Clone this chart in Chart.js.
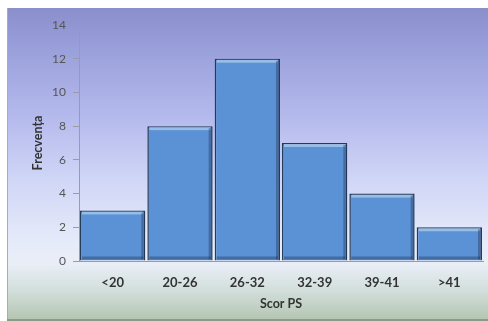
<!DOCTYPE html>
<html><head><meta charset="utf-8">
<script src="https://cdn.jsdelivr.net/npm/chart.js@4/dist/chart.umd.min.js"></script>
<style>
html,body{margin:0;padding:0;background:#fff;}
#wrap{position:absolute;left:7px;top:8px;width:481px;height:313px;
background:linear-gradient(to bottom,#8a8fcc 0%,#9ca2dc 15%,#b5baed 35%,#d0d6f6 55%,#e6ebfa 75%,#e9eef6 82%,#d3dfdc 90%,#b3c4b0 100%);
box-shadow:inset 0 -2px 0 #8a9a88, inset 1px 0 0 #a8a8c8;}
#c{display:block;}
</style></head><body>
<div id="wrap"><canvas id="c" width="481" height="313"></canvas></div>
<script>
const categories = ["<20","20-26","26-32","32-39","39-41",">41"];
const frequencies = [3,8,12,7,4,2];
const yTicks = [0,2,4,6,8,10,12,14];

const bevel = {
  id:'bevel',
  afterDatasetsDraw(chart){
    const ctx = chart.ctx;
    const meta = chart.getDatasetMeta(0);
    ctx.save();
    meta.data.forEach(b=>{
      const left = b.x - b.width/2, right = b.x + b.width/2, top = b.y;
      ctx.fillStyle = 'rgba(200,225,250,0.55)';
      ctx.fillRect(left+2, top+1, right-left-4, 3);
      ctx.fillStyle = 'rgba(20,40,70,0.35)';
      ctx.fillRect(right-4, top+2, 3, b.base-top-3);
      ctx.fillRect(left+2, b.base-4, right-left-4, 3);
    });
    ctx.restore();
  }
};

new Chart(document.getElementById('c'),{
  type:'bar',
  data:{labels:categories,datasets:[{data:frequencies,backgroundColor:'#5b91d5',borderColor:'#233a58',borderWidth:1.5,barPercentage:0.97,categoryPercentage:1}]},
  options:{
    responsive:false,animation:false,
    layout:{padding:{top:17,right:5,left:0,bottom:0}},
    plugins:{legend:{display:false},tooltip:{enabled:false}},
    scales:{
      x:{grid:{display:false,drawTicks:false},border:{color:'#9a9aa8'},
         afterFit(s){s.height=60;},
         ticks:{color:'#333',font:{family:'Lato',size:13,weight:'bold'},padding:14},
         title:{display:true,text:'Scor PS',color:'#333',font:{family:'Lato',size:12.5,weight:'bold'},padding:{top:0,bottom:10}}},
      y:{min:0,max:14,afterBuildTicks(s){s.ticks=yTicks.map(v=>({value:v}));},
         afterFit(s){s.width=72;},
         grid:{display:true,drawOnChartArea:false,drawTicks:true,tickLength:6,color:'#9a9aa8'},border:{color:'#9a9aa8'},
         ticks:{color:'#555',font:{family:'Lato',size:12},padding:7},
         title:{display:true,text:'Frecvența',color:'#333',font:{family:'Lato',size:12.5,weight:'bold'},padding:{top:23,bottom:0}}}
    }
  },
  plugins:[bevel]
});
</script></body></html>
